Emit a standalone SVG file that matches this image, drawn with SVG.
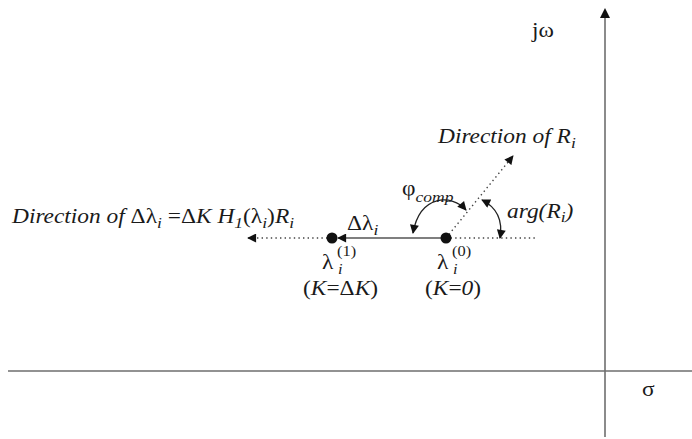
<svg xmlns="http://www.w3.org/2000/svg" width="692" height="439" viewBox="0 0 692 439">
<style>
text{font-family:'Liberation Serif','Times New Roman','DejaVu Serif',serif;font-size:20px;fill:#1a1a1a}
.it{font-style:italic}
.sub{font-size:15px;font-style:italic}
.sub2{font-size:14px;font-style:italic}
.sup{font-size:14px}
.axis{stroke:#6e6e6e;stroke-width:1.6;fill:none}
.dot{stroke:#444;stroke-width:1.4;stroke-dasharray:1.4 3.2;fill:none}
.solid{stroke:#555;stroke-width:1.6;fill:none}
.arc{stroke:#222;stroke-width:1.3;fill:none}
</style>
<defs>
<marker id="ah" viewBox="0 0 10 10" refX="9" refY="5" markerWidth="10" markerHeight="9" markerUnits="userSpaceOnUse" orient="auto-start-reverse">
<path d="M0,0 L10,5 L0,10 Z" fill="#111"/>
</marker>
<marker id="ahs" viewBox="0 0 10 10" refX="9" refY="5" markerWidth="11" markerHeight="9" markerUnits="userSpaceOnUse" orient="auto-start-reverse">
<path d="M0,0 L10,5 L0,10 Z" fill="#111"/>
</marker>
</defs>
<g id="axes">
<line class="axis" x1="8" y1="371" x2="692" y2="371"/>
<line class="axis" x1="605" y1="437" x2="605" y2="16"/>
<path d="M605,8 L600,18 L610,18 Z" fill="#111"/>
<text transform="translate(532,37) scale(1.17,1)">jω</text>
<text transform="translate(642,396) scale(1.17,1)">σ</text>
</g>
<g id="connectors">
<line class="solid" x1="446" y1="238" x2="338" y2="238" marker-end="url(#ah)"/>
<line class="dot" x1="332" y1="238" x2="248" y2="238" marker-end="url(#ah)"/>
<line class="dot" x1="446" y1="238" x2="536" y2="238"/>
<line class="dot" x1="446" y1="238" x2="513" y2="156" marker-end="url(#ah)"/>
<path class="arc" d="M466,210 C452,194 420,194 413,233" marker-start="url(#ahs)" marker-end="url(#ahs)"/>
<path class="arc" d="M482,200 C496,207 503,220 500,238" marker-start="url(#ahs)" marker-end="url(#ahs)"/>
</g>
<g id="lambda1">
<circle cx="332" cy="238" r="5.5" fill="#111"/>
<text transform="translate(322,269) scale(1.17,1)">λ</text>
<text class="sup" transform="translate(337,256) scale(1.17,1)">(1)</text>
<text class="sub2" transform="translate(338,274) scale(1.17,1)">i</text>
<text transform="translate(303,295) scale(1.17,1)">(<tspan class="it">K</tspan>=Δ<tspan class="it">K</tspan>)</text>
</g>
<g id="lambda0">
<circle cx="446" cy="238" r="5.5" fill="#111"/>
<text transform="translate(437,269) scale(1.17,1)">λ</text>
<text class="sup" transform="translate(452,256) scale(1.17,1)">(0)</text>
<text class="sub2" transform="translate(453,274) scale(1.17,1)">i</text>
<text transform="translate(425,295) scale(1.17,1)">(<tspan class="it">K</tspan>=<tspan class="it">0</tspan>)</text>
</g>
<g id="labels">
<text transform="translate(347,230) scale(1.17,1)">Δλ<tspan class="sub" dy="5">i</tspan></text>
<text transform="translate(402,195) scale(1.17,1)">φ<tspan class="sub" dy="7">comp</tspan></text>
<text class="it" transform="translate(507,218) scale(1.17,1)">arg(R<tspan class="sub" dy="4">i</tspan><tspan dy="-4">)</tspan></text>
<text class="it" transform="translate(438,143) scale(1.17,1)">Direction of R<tspan class="sub" dy="5">i</tspan></text>
<text transform="translate(12,223) scale(1.17,1)"><tspan class="it">Direction of </tspan>Δλ<tspan class="sub" dy="5">i</tspan><tspan dy="-5"> =Δ</tspan><tspan class="it">K H</tspan><tspan class="sub" dy="5">1</tspan><tspan dy="-5">(λ</tspan><tspan class="sub" dy="5">i</tspan><tspan dy="-5">)</tspan><tspan class="it">R</tspan><tspan class="sub" dy="5">i</tspan></text>
</g>
</svg>
